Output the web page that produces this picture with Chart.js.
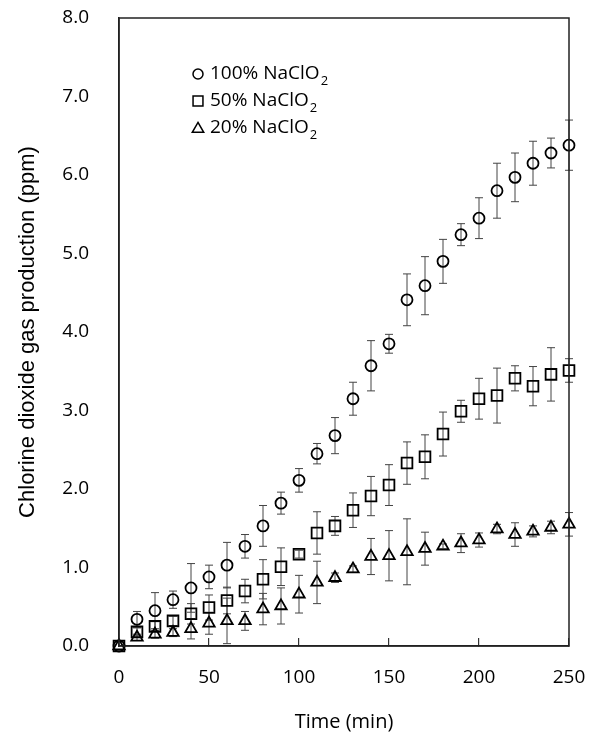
<!DOCTYPE html>
<html>
<head>
  <title>Chlorine dioxide gas production</title>
  <script src="https://cdn.jsdelivr.net/npm/chart.js"></script>
  <style>
    body { margin: 0; background: #fff; }
    #wrap { width: 595px; height: 740px; }
  </style>
</head>
<body>
  <div id="wrap"><canvas id="gasChart"></canvas></div>

  <script>
    // time points (min)
    const time = [0, 10, 20, 30, 40, 50, 60, 70, 80, 90, 100, 110, 120, 130, 140, 150, 160, 170, 180, 190, 200, 210, 220, 230, 240, 250];

    // 100% NaClO2
    const pct100 = [0, 0.34, 0.45, 0.59, 0.74, 0.88, 1.03, 1.27, 1.53, 1.82, 2.11, 2.45, 2.68, 3.15, 3.57, 3.85, 4.41, 4.59, 4.90, 5.24, 5.45, 5.80, 5.97, 6.15, 6.28, 6.38];
    const err100 = [0, 0.10, 0.23, 0.11, 0.31, 0.15, 0.29, 0.15, 0.26, 0.14, 0.15, 0.13, 0.23, 0.21, 0.32, 0.12, 0.33, 0.37, 0.28, 0.14, 0.26, 0.35, 0.31, 0.28, 0.19, 0.32];

    // 50% NaClO2
    const pct50 = [0, 0.18, 0.25, 0.32, 0.41, 0.49, 0.58, 0.70, 0.85, 1.01, 1.17, 1.44, 1.53, 1.73, 1.91, 2.05, 2.33, 2.41, 2.70, 2.99, 3.15, 3.19, 3.41, 3.31, 3.46, 3.51];
    const err50 = [0, 0.05, 0.06, 0.06, 0.13, 0.16, 0.17, 0.15, 0.25, 0.24, 0.05, 0.27, 0.12, 0.22, 0.25, 0.26, 0.27, 0.28, 0.28, 0.14, 0.26, 0.35, 0.16, 0.25, 0.34, 0.15];

    // 20% NaClO2
    const pct20 = [0, 0.11, 0.15, 0.17, 0.22, 0.29, 0.32, 0.32, 0.47, 0.51, 0.66, 0.81, 0.87, 0.98, 1.14, 1.15, 1.20, 1.24, 1.27, 1.31, 1.35, 1.49, 1.42, 1.46, 1.51, 1.55];
    const err20 = [0, 0.04, 0.05, 0.05, 0.13, 0.14, 0.29, 0.12, 0.20, 0.23, 0.24, 0.27, 0.06, 0.04, 0.23, 0.32, 0.42, 0.21, 0.03, 0.12, 0.09, 0.06, 0.15, 0.07, 0.08, 0.15];

    const labels = ["100% NaClO", "50% NaClO", "20% NaClO"];
    const styles = ["circle", "rect", "triangle"];
    const radii = [5.5, 7.6, 6.6];

    const tickFont = "'Open Sans', 'Noto Sans CJK KR', sans-serif";

    function toPoints(ys) {
      return time.map((t, i) => ({ x: t, y: ys[i] }));
    }

    // error bars through the chart scales
    const errorBars = {
      id: "errorBars",
      beforeDatasetsDraw(chart) {
        const ctx = chart.ctx;
        const xs = chart.scales.x, ys = chart.scales.y;
        const errs = [err100, err50, err20];
        ctx.save();
        ctx.strokeStyle = "#444";
        ctx.lineWidth = 1;
        chart.data.datasets.forEach((ds, d) => {
          ds.data.forEach((p, i) => {
            const e = errs[d][i];
            if (!e) return;
            const px = xs.getPixelForValue(p.x);
            const top = ys.getPixelForValue(p.y + e);
            const bot = ys.getPixelForValue(p.y - e);
            ctx.beginPath();
            ctx.moveTo(px, top); ctx.lineTo(px, bot);
            ctx.moveTo(px - 4, top); ctx.lineTo(px + 4, top);
            ctx.moveTo(px - 4, bot); ctx.lineTo(px + 4, bot);
            ctx.stroke();
          });
        });
        ctx.restore();
      }
    };

    // box frame + legend inside the plot
    const frameAndLegend = {
      id: "frameAndLegend",
      afterDraw(chart) {
        const ctx = chart.ctx;
        const a = chart.chartArea;
        ctx.save();
        ctx.strokeStyle = "#222";
        ctx.lineWidth = 1.5;
        ctx.strokeRect(a.left, a.top, a.right - a.left, a.bottom - a.top);

        const lx = a.left + 79, ly = a.top + 56, gap = 27;
        labels.forEach((txt, i) => {
          const y = ly + i * gap;
          ctx.strokeStyle = "#000";
          ctx.fillStyle = "rgba(0,0,0,0)";
          Chart.helpers.drawPoint(ctx, {
            pointStyle: styles[i], radius: [5, 7, 6.6][i], borderWidth: 1.5, rotation: 0
          }, lx, y + (i === 2 ? 1 : 0));
          ctx.fillStyle = "#000";
          ctx.textBaseline = "middle";
          ctx.textAlign = "left";
          ctx.font = "19px " + tickFont;
          ctx.fillText(txt, lx + 12, y);
          const w = ctx.measureText(txt).width;
          ctx.font = "13px " + tickFont;
          ctx.fillText("2", lx + 12 + w + 1, y + 7);
        });
        ctx.restore();
      }
    };

    const datasets = [pct100, pct50, pct20].map((ys, i) => ({
      label: labels[i] + "2",
      data: toPoints(ys),
      pointStyle: styles[i],
      pointRadius: radii[i],
      pointHoverRadius: radii[i],
      pointBorderWidth: 1.8,
      pointBorderColor: "#000",
      pointBackgroundColor: "rgba(0,0,0,0)",
      showLine: false,
      clip: false
    }));

    new Chart(document.getElementById("gasChart"), {
      type: "scatter",
      data: { datasets: datasets },
      options: {
        responsive: true,
        maintainAspectRatio: false,
        animation: false,
        layout: { padding: { left: 0, right: 26, top: 18, bottom: 0 } },
        plugins: {
          legend: { display: false },
          tooltip: { enabled: false }
        },
        scales: {
          x: {
            type: "linear",
            min: 0,
            max: 250,
            afterFit(scale) {
              scale.height = 94;
              scale.paddingLeft = 0;
              scale.paddingRight = 0;
            },
            ticks: {
              stepSize: 50,
              padding: 28,
              color: "#000",
              font: { family: tickFont, size: 19 }
            },
            grid: {
              drawOnChartArea: false,
              drawTicks: true,
              tickLength: -8,
              color: "#333",
              lineWidth: 1.2
            },
            border: { display: true, color: "#222", width: 1.5 },
            title: {
              display: true,
              text: "Time (min)",
              color: "#000",
              font: { family: tickFont, size: 20 },
              padding: { top: 0, bottom: 6 }
            }
          },
          y: {
            min: 0,
            max: 8,
            afterFit(scale) {
              scale.width = 119;
              scale.paddingTop = 0;
              scale.paddingBottom = 0;
            },
            ticks: {
              stepSize: 1,
              padding: 30,
              color: "#000",
              font: { family: tickFont, size: 19 },
              callback: v => Number(v).toFixed(1)
            },
            grid: { display: false, drawTicks: false },
            border: { display: true, color: "#222", width: 1.5 },
            title: {
              display: true,
              text: "Chlorine dioxide gas production (ppm)",
              color: "#000",
              font: { family: "'Liberation Sans', Arial, sans-serif", size: 22 },
              padding: { top: 15, bottom: 0 }
            }
          }
        }
      },
      plugins: [errorBars, frameAndLegend]
    });
  </script>
</body>
</html>
